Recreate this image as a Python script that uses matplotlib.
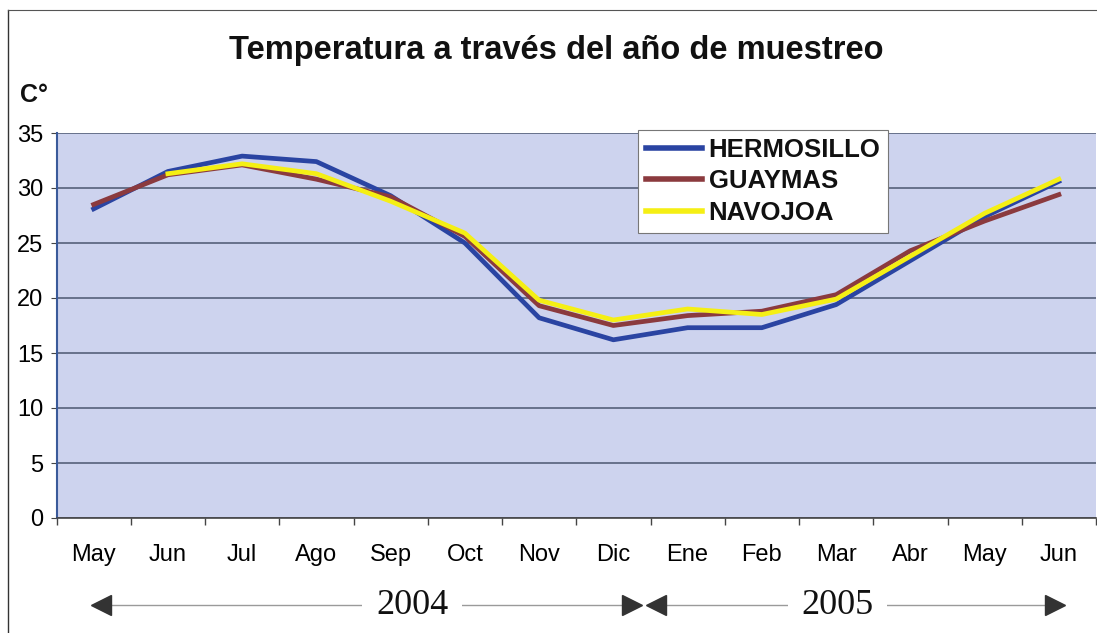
import matplotlib
matplotlib.use("Agg")
import matplotlib.pyplot as plt
from matplotlib.lines import Line2D

months = ["May", "Jun", "Jul", "Ago", "Sep", "Oct", "Nov", "Dic",
          "Ene", "Feb", "Mar", "Abr", "May", "Jun"]
hermosillo = [28.1, 31.5, 32.9, 32.4, 29.3, 25.0, 18.2, 16.2, 17.3, 17.3, 19.4, 23.4, 27.4, 30.6]
guaymas = [28.5, 31.2, 32.1, 30.8, 29.2, 25.6, 19.3, 17.5, 18.4, 18.8, 20.3, 24.3, 27.0, 29.4]
navojoa_months = months[1:]
navojoa = [31.3, 32.2, 31.3, 28.8, 25.9, 19.8, 18.0, 19.0, 18.5, 19.9, 23.8, 27.7, 30.8]
yticks = [0, 5, 10, 15, 20, 25, 30, 35]
years = ["2004", "2005"]

plt.rcParams['font.family'] = ['Liberation Sans', 'DejaVu Sans']

W, H = 1097, 633
fig = plt.figure(figsize=(W / 100, H / 100), dpi=100)
fig.patch.set_facecolor('white')

# outer frame
fig.add_artist(Line2D([8 / W, 8 / W], [0, 1 - 10 / H], color='#333333', lw=1.0))
fig.add_artist(Line2D([8 / W, 1], [1 - 10 / H, 1 - 10 / H], color='#555555', lw=0.8))

left, right, top, bottom = 56.5, 1096, 133, 518
ax = fig.add_axes([left / W, 1 - bottom / H, (right - left) / W, (bottom - top) / H])
ax.set_facecolor('#cdd3ee')

x = list(range(len(months)))
xn = list(range(1, len(months)))
ax.plot(x, hermosillo, color='#2a44a2', lw=3.4, label='HERMOSILLO', zorder=3)
ax.plot(x, guaymas, color='#8b3a3e', lw=3.4, label='GUAYMAS', zorder=4)
ax.plot(xn, navojoa, color='#f5ef14', lw=3.4, label='NAVOJOA', zorder=5)

ax.set_xlim(-0.5, len(months) - 0.5)
ax.set_ylim(0, 35)
ax.set_yticks(yticks)
ax.set_yticklabels([str(v) for v in yticks], fontsize=17)
ax.yaxis.grid(True, color='#56607a', lw=1.2)
ax.set_axisbelow(True)

ax.set_xticks(x)
ax.set_xticklabels(months, fontsize=17)
ax.set_xticks([i - 0.5 for i in range(len(months) + 1)], minor=True)
ax.tick_params(axis='x', which='major', length=0, pad=19)
ax.tick_params(axis='x', which='minor', length=5, color='#444444', width=1)
ax.tick_params(axis='y', length=4.5, pad=5, color='#444444')

for s in ['top', 'right']:
    ax.spines[s].set_visible(False)
ax.spines['left'].set_color('#3a5a9a')
ax.spines['left'].set_linewidth(1.5)
ax.spines['bottom'].set_color('#444444')
ax.spines['bottom'].set_linewidth(1.2)

leg = ax.legend(loc='upper left', bbox_to_anchor=((638 - left) / (right - left), 1.008),
                frameon=True, fancybox=False, fontsize=18.5, handlelength=2.2,
                handletextpad=0.25, borderpad=0.3, labelspacing=0.3, borderaxespad=0)
leg.get_frame().set_edgecolor('#777777')
leg.get_frame().set_linewidth(0.8)
leg.get_frame().set_facecolor('white')
leg.get_frame().set_alpha(1)
for t in leg.get_texts():
    t.set_fontweight('bold')
    t.set_color('#111111')
for h in leg.get_lines():
    h.set_linewidth(4.0)

fig.text(556 / W, 1 - 50 / H, "Temperatura a través del año de muestreo",
         ha='center', va='center', fontsize=23.5, fontweight='bold', color='#111111')
fig.text(20 / W, 1 - 95 / H, "C°", ha='left', va='center', fontsize=18,
         fontweight='bold', color='#111111')

# year arrows (x in data units, y in axes fraction)
tr = ax.get_xaxis_transform()
ya = -0.226
spans = [(0.1, 7.25, 4.29), (7.58, 12.95, 10.02)]
for (x0, x1, xt), yr in zip(spans, years):
    ax.plot([x0, x1], [ya, ya], color='#9a9a9a', lw=1.0, transform=tr, clip_on=False)
    ax.plot([x0], [ya], marker='<', ms=14, color='#333333', transform=tr, clip_on=False)
    ax.plot([x1], [ya], marker='>', ms=14, color='#333333', transform=tr, clip_on=False)
    ax.text(xt, ya, yr, transform=tr, ha='center', va='center', fontsize=26,
            family=['Liberation Serif', 'DejaVu Serif'], color='#111111',
            bbox=dict(facecolor='white', edgecolor='none', pad=10), clip_on=False)

fig.savefig('out.png', dpi=100)
